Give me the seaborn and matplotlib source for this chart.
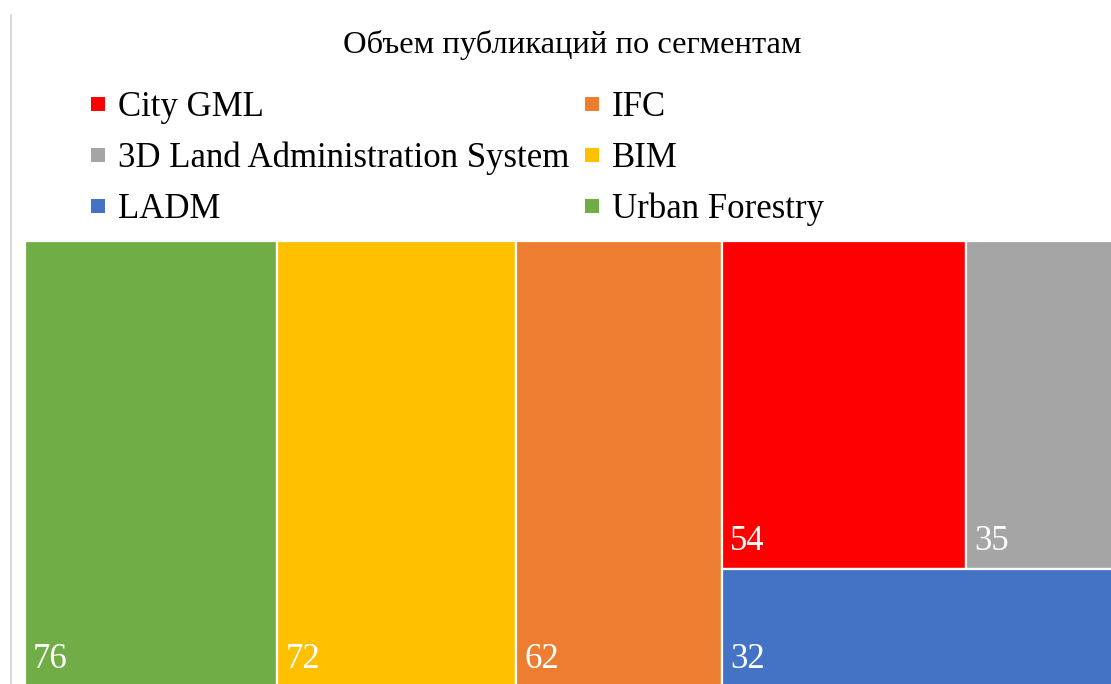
import matplotlib
matplotlib.use("Agg")
import matplotlib.pyplot as plt
from matplotlib.patches import Rectangle
from matplotlib.lines import Line2D
import seaborn as sns

# ---- data ----
categories = ["Urban Forestry", "BIM", "IFC", "City GML", "3D Land Administration System", "LADM"]
values = [76, 72, 62, 54, 35, 32]
colors = ["#70AD47", "#FFC000", "#ED7D31", "#FF0000", "#A5A5A5", "#4472C4"]
legend_order = ["City GML", "3D Land Administration System", "LADM", "IFC", "BIM", "Urban Forestry"]
title = "Объем публикаций по сегментам"

sns.set_theme(style="white")
plt.rcParams["font.family"] = ["Liberation Serif", "DejaVu Serif"]
plt.rcParams["text.color"] = "black"

W, H = 1111, 684
fig = plt.figure(figsize=(W / 100, H / 100), dpi=100)

# treemap area (the original chart is cropped on the right)
left, top = 25, 241
aw, ah = 1099, H - top
ax = fig.add_axes([left / W, 0, aw / W, ah / H])
ax.set_xlim(0, aw)
ax.set_ylim(ah, 0)
ax.axis("off")


def layout(vals, x, y, w, h):
    """Excel-like treemap: the three largest as columns, rest split into a top row and a bottom strip."""
    total = sum(vals)
    rects = []
    cx = x
    for v in vals[:3]:
        cw = w * v / total
        rects.append((cx, y, cw, h))
        cx += cw
    rest = vals[3:]
    rw = x + w - cx
    rtotal = sum(rest)
    top_vals = rest[:2]
    th = h * sum(top_vals) / rtotal
    tx = cx
    for v in top_vals:
        tw = rw * v / sum(top_vals)
        rects.append((tx, y, tw, th))
        tx += tw
    rects.append((cx, y + th, rw, h - th))
    return rects


rects = layout(values, 0, 0, aw, ah + 3)
for (rx, ry, rw_, rh), v, c in zip(rects, values, colors):
    ax.add_patch(Rectangle((rx, ry), rw_, rh, facecolor=c, edgecolor="white", linewidth=1.6))
    ax.text(rx + 8, ry + rh - 19, str(v), color="white", fontsize=25, ha="left", va="baseline")

# title
fig.text(572 / W, 1 - 45 / H, title, ha="center", va="center", fontsize=23.4, color="black")

# legend
handles = [Line2D([], [], marker="s", linestyle="none", markersize=9.5,
                  markerfacecolor=colors[categories.index(n)], markeredgewidth=0)
           for n in legend_order]
fig.legend(handles, legend_order, ncol=2, loc="upper left",
           bbox_to_anchor=(88 / W, 1 - 91 / H), frameon=False, fontsize=25,
           handlelength=0.6, handletextpad=0.27, columnspacing=0.35,
           labelspacing=0.51, borderpad=0, borderaxespad=0, labelcolor="black")

# thin left border line
fig.add_artist(Line2D([11 / W, 11 / W], [0, 1 - 15 / H], color="#D9D9D9", linewidth=1.5))

fig.savefig("out.png", dpi=100)
